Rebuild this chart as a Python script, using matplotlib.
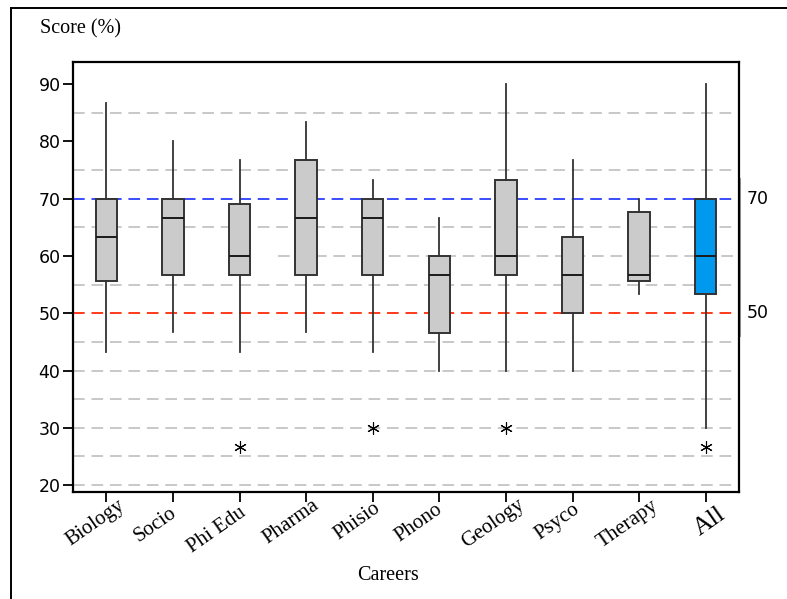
import matplotlib
matplotlib.use('Agg')
import matplotlib.pyplot as plt
from matplotlib.lines import Line2D
import matplotlib.transforms as mtransforms

careers = ['Biology', 'Socio', 'Phi Edu', 'Pharma', 'Phisio', 'Phono',
           'Geology', 'Psyco', 'Therapy', 'All']
whislo = [43.3, 46.7, 43.3, 46.7, 43.3, 40.0, 40.0, 40.0, 53.3, 30.0]
q1 = [55.6, 56.7, 56.7, 56.7, 56.7, 46.5, 56.7, 50.0, 55.6, 53.3]
med = [63.3, 66.7, 60.0, 66.7, 66.7, 56.7, 60.0, 56.7, 56.7, 60.0]
q3 = [70.0, 70.0, 69.0, 76.7, 70.0, 60.0, 73.3, 63.3, 67.6, 70.0]
whishi = [86.7, 80.0, 76.7, 83.3, 73.3, 66.7, 90.0, 76.7, 70.0, 90.0]
outliers = [[], [], [26.7], [], [30.0], [], [30.0], [], [], [26.7]]
yticks = [20, 30, 40, 50, 60, 70, 80, 90]
grid_levels = [20, 25, 30, 35, 40, 45, 55, 60, 65, 75, 85]
ref_levels = [70, 50]
ref_labels = ['70', '50']
ref_colors = ['#3a4cff', '#ff3a1a']

# layout: (right, down) pixel offset of each rotated label's baseline end from its tick
label_dx_px = [19, 4, 7, 14, 8, 4, 19, 8, 20, 21]
label_dy_px = [15, 23, 23, 15, 18, 19, 15, 19, 16, 25]

W, H = 787, 599
fig = plt.figure(figsize=(W / 100, H / 100), dpi=100)
ax = fig.add_axes([73 / W, (H - 492) / H, 666 / W, 430 / H])

positions = list(range(1, len(careers) + 1))
stats = []
for i in range(len(careers)):
    stats.append(dict(med=med[i], q1=q1[i], q3=q3[i], whislo=whislo[i],
                      whishi=whishi[i], fliers=outliers[i], label=careers[i]))

# gridlines
for g in grid_levels:
    xmin = 0.308 if g == 60 else 0.0
    ax.axhline(g, xmin=xmin, color='#c8c8c8', lw=1.4, ls=(0, (6, 3.5)), zorder=0)
for lvl, c in zip(ref_levels, ref_colors):
    ax.axhline(lvl, color=c, lw=1.4, ls=(0, (6, 3.5)), zorder=1)

bp = ax.bxp(stats, positions=positions, widths=0.32, patch_artist=True,
            showcaps=False,
            boxprops=dict(facecolor='#cbcbcb', edgecolor='#333333', lw=1.4),
            medianprops=dict(color='#1a1a1a', lw=1.4),
            whiskerprops=dict(color='#333333', lw=1.3),
            flierprops=dict(marker=(6, 2, 0), markersize=9, markeredgecolor='black',
                            markeredgewidth=0.8, linestyle='none'),
            zorder=2)
bp['boxes'][-1].set_facecolor('#0099ee')

ax.set_xlim(0.5, 10.5)
ax.set_ylim(18.8, 93.85)
ax.set_yticks(yticks)
ax.set_yticklabels([str(t) for t in yticks], fontsize=12.5, family='DejaVu Sans')
ax.set_xticks(positions)
ax.set_xticklabels([])

xtrans = mtransforms.blended_transform_factory(ax.transData, ax.transAxes)
for p, name, dx, dy in zip(positions, careers, label_dx_px, label_dy_px):
    off = mtransforms.ScaledTranslation(dx / 100, -dy / 100, fig.dpi_scale_trans)
    ax.text(p, 0, name, transform=xtrans + off, family='Liberation Serif',
            fontsize=18.5 if name == 'All' else 15, rotation=35, ha='right',
            va='baseline', rotation_mode='anchor', clip_on=False)

ax.tick_params(axis='both', direction='out', length=7, width=1.3, colors='black')
ax.tick_params(axis='y', pad=2)
for s in ax.spines.values():
    s.set_linewidth(1.6)
    s.set_color('black')

# right-side reference labels
trans = mtransforms.blended_transform_factory(ax.transAxes, ax.transData)
for lvl, lab in zip(ref_levels, ref_labels):
    ax.text(1.012, lvl, lab, transform=trans, fontsize=12.5, family='DejaVu Sans',
            ha='left', va='center')
ax.add_line(Line2D([1.002, 1.002], [73.5, 46.0], transform=trans, color='#9a9a9a',
                   lw=1.4, clip_on=False))

fig.text(40 / W, 1 - 29 / H, 'Score (%)', family='Liberation Serif', fontsize=14.5,
         ha='left', va='center')
fig.text(388 / W, 1 - 575 / H, 'Careers', family='Liberation Serif', fontsize=14.5,
         ha='center', va='center')

# figure frame (left and top)
fig.add_artist(Line2D([11 / W, 11 / W], [0, 1 - 8 / H], transform=fig.transFigure,
                      color='black', lw=1.4))
fig.add_artist(Line2D([11 / W, 1], [1 - 8 / H, 1 - 8 / H], transform=fig.transFigure,
                      color='black', lw=1.4))

fig.savefig('out.png', dpi=100)
